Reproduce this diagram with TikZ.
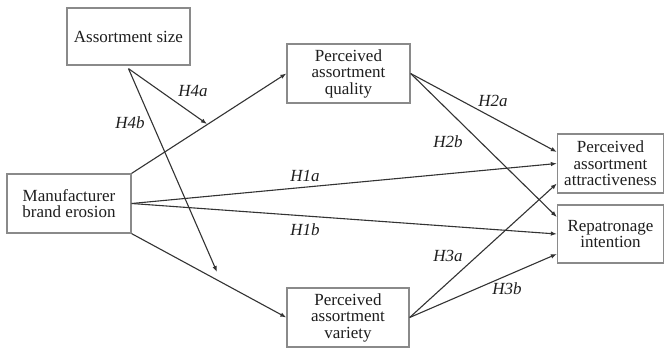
\documentclass[tikz,border=0pt]{standalone}
\usepackage{fontspec}
\setmainfont{Liberation Serif}
\usetikzlibrary{arrows.meta,calc}
\definecolor{boxgray}{HTML}{8A8A8A}
\definecolor{linegray}{HTML}{333333}
\definecolor{txt}{HTML}{1E1E1E}
\tikzset{
  varbox/.style={draw=boxgray, line width=1.3pt, rectangle, align=center, inner sep=0pt, text=txt,
    font=\fontsize{17}{16.5}\selectfont},
  path/.style={draw=linegray, line width=1.1pt, -{Latex[length=6pt,width=4.5pt]}},
  hyp/.style={font=\fontsize{17}{17}\itshape, text=txt, inner sep=0pt}
}
\begin{document}
\begin{tikzpicture}[x=1pt,y=-1pt]
\useasboundingbox (0,0) rectangle (665,348);
\fill[white] (0,0) rectangle (665,348);
\node[varbox, minimum width=123pt, minimum height=57pt] (AS) at (128.5,36.5) {Assortment size};
\node[varbox, minimum width=123pt, minimum height=59pt] (PAQ) at (348.5,73.5) {Perceived\\assortment\\quality};
\node[varbox, minimum width=124pt, minimum height=59pt] (MBE) at (69,203.5) {Manufacturer\\brand erosion};
\node[varbox, minimum width=122pt, minimum height=59pt] (PAV) at (348,317.5) {Perceived\\assortment\\variety};
\node[varbox, minimum width=106pt, minimum height=59pt] (PAA) at (610.5,163.5) {Perceived\\assortment\\attractiveness};
\node[varbox, minimum width=106pt, minimum height=58pt] (RI) at (610.5,234) {Repatronage\\intention};
\coordinate (m4a) at (207,124);
\coordinate (m4b) at (217,272);
% moderation arrows
\draw[path] ([yshift=-3pt]AS.south) -- (m4a);
\draw[path] ([yshift=-3pt]AS.south) -- (m4b);
% main paths
\draw[path] (MBE.north east) -- (PAQ.west);
\draw[path] (MBE.east) -- (PAA.west);
\draw[path] (MBE.east) -- (RI.west);
\draw[path] (MBE.south east) -- (PAV.west);
\draw[path] (PAQ.east) -- ([yshift=11.5pt]PAA.west);
\draw[path] (PAQ.east) -- ([yshift=17pt]RI.west);
\draw[path] (PAV.east) -- ([yshift=-20pt]PAA.west);
\draw[path] (PAV.east) -- ([yshift=-20pt]RI.west);
% labels
\node[hyp] (l4a) at (193,91) {H4a};
\node[hyp] (l4b) at (130,123) {H4b};
\node[hyp] (l1a) at (305,176) {H1a};
\node[hyp] (l1b) at (305,230) {H1b};
\node[hyp] (l2a) at (493,101) {H2a};
\node[hyp] (l2b) at (448,142) {H2b};
\node[hyp] (l3a) at (448,256) {H3a};
\node[hyp] (l3b) at (507,289) {H3b};
\end{tikzpicture}
\end{document}
